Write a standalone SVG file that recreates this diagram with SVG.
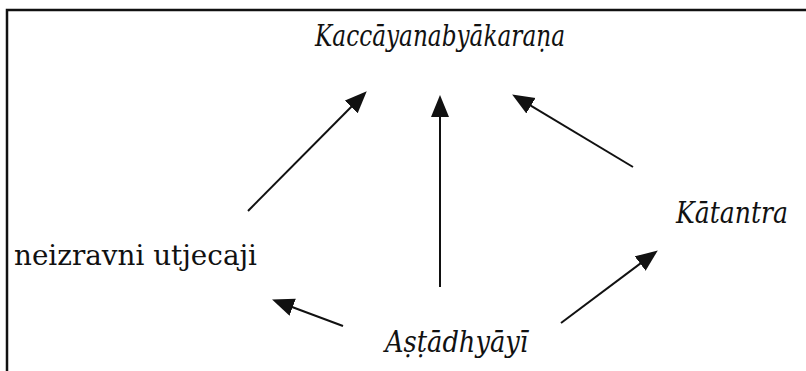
<svg xmlns="http://www.w3.org/2000/svg" width="806" height="371" viewBox="0 0 806 371">
<style>
.it{font-family:"DejaVu Serif","Liberation Serif",serif;font-style:italic;font-size:29px;fill:#111}
.rg{font-family:"DejaVu Serif","Liberation Serif",serif;font-size:28px;fill:#111}
.conn line{stroke:#111;stroke-width:2;marker-end:url(#ah)}
</style>
<defs>
<marker id="ah" markerUnits="userSpaceOnUse" markerWidth="24" markerHeight="20" refX="10" refY="9" orient="auto" viewBox="0 0 24 20">
<path d="M0,0 L22,9 L0,18 Z" fill="#111"/>
</marker>
</defs>
<rect width="806" height="371" fill="#fff"/>
<path d="M7,380 V10 H820" fill="none" stroke="#111" stroke-width="2.5"/>
<g id="kaccayana"><text class="it" x="440" y="46" text-anchor="middle" textLength="250" lengthAdjust="spacingAndGlyphs">Kaccāyanabyākaraṇa</text></g>
<g id="katantra"><text class="it" x="676" y="223" textLength="112" lengthAdjust="spacingAndGlyphs">Kātantra</text></g>
<g id="astadhyayi"><text class="it" x="385" y="352" textLength="143" lengthAdjust="spacingAndGlyphs">Aṣṭādhyāyī</text></g>
<g id="neizravni"><text class="rg" x="14" y="265" textLength="243" lengthAdjust="spacingAndGlyphs">neizravni utjecaji</text></g>
<g id="connectors" class="conn">
<line x1="248" y1="211" x2="358.3" y2="99.8"/>
<line x1="440" y1="287" x2="440" y2="107"/>
<line x1="633" y1="167" x2="522.4" y2="100.6"/>
<line x1="343" y1="326" x2="283.3" y2="303.8"/>
<line x1="561" y1="323" x2="648.2" y2="257.6"/>
</g>
</svg>
